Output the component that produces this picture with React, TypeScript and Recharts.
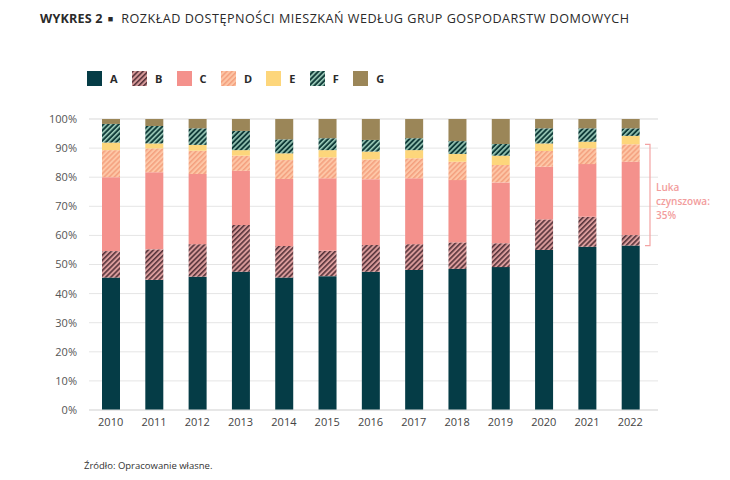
import React from 'react';
import { BarChart, Bar, XAxis, YAxis, CartesianGrid, ReferenceArea } from 'recharts';

const YEARS = ['2010', '2011', '2012', '2013', '2014', '2015', '2016', '2017', '2018', '2019', '2020', '2021', '2022'];
const A = [45.5, 44.7, 45.8, 47.5, 45.5, 46.0, 47.5, 48.1, 48.5, 49.1, 55.0, 56.1, 56.5];
const B = [9.1, 10.5, 11.2, 16.1, 10.9, 8.7, 9.2, 8.9, 9.1, 8.2, 10.5, 10.3, 3.6];
const C = [25.4, 26.5, 24.1, 18.6, 23.0, 24.9, 22.6, 22.6, 21.4, 20.9, 18.1, 18.1, 25.2];
const D = [9.3, 8.2, 8.0, 5.2, 6.5, 7.2, 6.8, 6.9, 6.3, 6.0, 5.4, 5.4, 6.0];
const E = [2.6, 1.7, 2.0, 1.9, 2.3, 2.5, 2.7, 2.8, 2.7, 3.2, 2.6, 2.3, 2.9];
const F = [6.4, 6.0, 5.7, 6.6, 4.8, 4.1, 4.0, 4.1, 4.4, 4.0, 5.2, 4.6, 2.6];
const G = [1.7, 2.4, 3.2, 4.1, 7.0, 6.6, 7.2, 6.6, 7.6, 8.6, 3.2, 3.2, 3.2];
const SERIES_KEYS = ['A', 'B', 'C', 'D', 'E', 'F', 'G'];
const Y_TICKS = [0, 10, 20, 30, 40, 50, 60, 70, 80, 90, 100];
const GAP_LABEL = ['Luka', 'czynszowa:', '35%'];
const TITLE_BOLD = 'WYKRES 2';
const TITLE_REST = 'ROZKŁAD DOSTĘPNOŚCI MIESZKAŃ WEDŁUG GRUP GOSPODARSTW DOMOWYCH';
const SOURCE = 'Źródło: Opracowanie własne.';

const SERIES_VALUES: Record<string, number[]> = { A, B, C, D, E, F, G };

const FILLS: Record<string, string> = {
  A: '#053c46',
  B: 'url(#patB)',
  C: '#f4918c',
  D: 'url(#patD)',
  E: '#fdd67b',
  F: 'url(#patF)',
  G: '#9b8658',
};

const data = YEARS.map((year, i) => {
  const row: Record<string, number | string> = { year };
  SERIES_KEYS.forEach((k) => {
    row[k] = SERIES_VALUES[k][i];
  });
  return row;
});

const last = YEARS.length - 1;
const gapLow = A[last];
const gapHigh = A[last] + B[last] + C[last] + D[last];

const FONT = '"Open Sans", "Noto Sans", sans-serif';

const Patterns = () => (
  <svg width={0} height={0} style={{ position: 'absolute' }}>
    <defs>
      <pattern id="patB" width={3.6} height={3.6} patternUnits="userSpaceOnUse" patternTransform="rotate(45)">
        <rect width={3.6} height={3.6} fill="#d99b9b" />
        <line x1={0.8} y1={0} x2={0.8} y2={3.6} stroke="#4e2d34" strokeWidth={1.5} />
      </pattern>
      <pattern id="patD" width={3.6} height={3.6} patternUnits="userSpaceOnUse" patternTransform="rotate(45)">
        <rect width={3.6} height={3.6} fill="#fdc6a6" />
        <line x1={0.8} y1={0} x2={0.8} y2={3.6} stroke="#f49f7d" strokeWidth={1.5} />
      </pattern>
      <pattern id="patF" width={3.6} height={3.6} patternUnits="userSpaceOnUse" patternTransform="rotate(45)">
        <rect width={3.6} height={3.6} fill="#103b39" />
        <line x1={0.8} y1={0} x2={0.8} y2={3.6} stroke="#a6d6c3" strokeWidth={1.5} />
      </pattern>
    </defs>
  </svg>
);

const GapBracket = (props: any) => {
  const { x, y, width, height } = props;
  const right = x + width;
  const vx = right - 2;
  const cy = y + height / 2;
  return (
    <g>
      <path
        d={`M${vx - 5},${y} L${vx},${y} L${vx},${y + height} L${vx - 5},${y + height}`}
        fill="none"
        stroke="#f3a3a3"
        strokeWidth={1.2}
      />
      {GAP_LABEL.map((t, i) => (
        <text
          key={t}
          x={right + 4}
          y={cy - 4 + i * 13.8}
          fill="#f29c9c"
          fontSize={10}
          fontWeight={600}
          fontFamily={FONT}
        >
          {t}
        </text>
      ))}
    </g>
  );
};

export default function App() {
  return (
    <div
      style={{
        position: 'absolute',
        left: 0,
        top: 0,
        width: 730,
        height: 480,
        background: '#fff',
        fontFamily: FONT,
        overflow: 'hidden',
      }}
    >
      <Patterns />
      <div
        style={{
          position: 'absolute',
          left: 40,
          top: 10,
          fontSize: 12.6,
          color: '#2a2a2a',
          whiteSpace: 'nowrap',
        }}
      >
        <span style={{ fontWeight: 700, letterSpacing: 0.2 }}>{TITLE_BOLD}</span>
        <span style={{ fontWeight: 700, fontSize: 9, margin: '0 8px 0 5px', position: 'relative', top: -1 }}>■</span>
        <span style={{ letterSpacing: 0.5 }}>{TITLE_REST}</span>
      </div>
      <div
        style={{
          position: 'absolute',
          left: 87,
          top: 71,
          display: 'flex',
          alignItems: 'center',
        }}
      >
        {SERIES_KEYS.map((k) => (
          <div key={k} style={{ display: 'flex', alignItems: 'center', marginRight: 14.3 }}>
            <svg width={15} height={15} style={{ display: 'block' }}>
              <rect width={15} height={15} fill={FILLS[k]} />
            </svg>
            <span style={{ marginLeft: 8, fontSize: 11, fontWeight: 700, color: '#2a2a2a', lineHeight: '15px' }}>{k}</span>
          </div>
        ))}
      </div>
      <div style={{ position: 'absolute', left: 0, top: 0 }}>
        <BarChart width={730} height={480} data={data} margin={{ top: 119, right: 72, bottom: 40, left: 29 }}>
          <CartesianGrid vertical={false} stroke="#e5e5e5" />
          <XAxis
            dataKey="year"
            height={30}
            tickLine={false}
            axisLine={{ stroke: '#dcdcdc' }}
            tickSize={0}
            tickMargin={8}
            padding={{ left: 0, right: 6 }}
            tick={{ fontSize: 11, fill: '#444', fontFamily: FONT }}
            interval={0}
          />
          <YAxis
            width={60}
            domain={[0, 100]}
            ticks={Y_TICKS}
            tickFormatter={(v: number) => `${v}%`}
            axisLine={false}
            tickLine={false}
            tickSize={0}
            tickMargin={12}
            tick={{ fontSize: 11, fill: '#555', fontFamily: FONT }}
          />
          {SERIES_KEYS.map((k) => (
            <Bar key={k} dataKey={k} stackId="s" fill={FILLS[k]} barSize={18} isAnimationActive={false} />
          ))}
          <ReferenceArea y1={gapLow} y2={gapHigh} ifOverflow="visible" shape={<GapBracket />} />
        </BarChart>
      </div>
      <div style={{ position: 'absolute', left: 84, top: 459, fontSize: 9.5, color: '#333' }}>{SOURCE}</div>
    </div>
  );
}
